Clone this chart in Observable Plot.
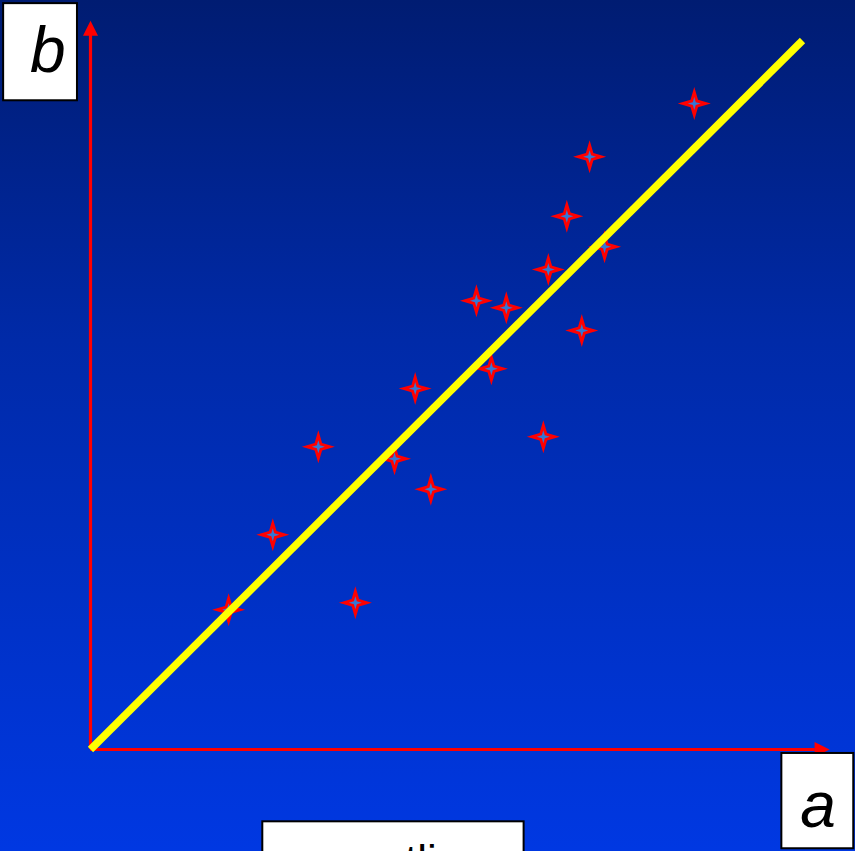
<!DOCTYPE html>
<html>
<head>
<meta charset="utf-8">
<script src="https://cdn.jsdelivr.net/npm/d3@7"></script>
<script src="https://cdn.jsdelivr.net/npm/@observablehq/plot@0.6"></script>
<style>
html, body { margin: 0; padding: 0; overflow: hidden; }
</style>
</head>
<body>
<div id="chart"></div>
<script>
// Data (arbitrary units: origin at 0, fitted line b = a)
const aValues = [19.4, 25.6, 32.0, 37.2, 42.7, 45.6, 47.8, 54.2, 56.3, 58.4, 63.6, 64.3, 66.9, 69.0, 70.1, 72.2, 84.8];
const bValues = [19.7, 30.3, 42.7, 20.7, 41.0, 50.9, 36.7, 63.3, 53.7, 62.3, 44.1, 67.7, 75.2, 59.1, 83.6, 70.9, 91.1];
const fitA = [0, 100];
const fitB = [0, 100];
const axisEndA = 103.8;
const axisEndB = 102.8;
const axisLabels = ["a", "b"];
const captionText = "outlier";

const points = aValues.map((a, i) => ({a, b: bValues[i]}));
const fit = fitA.map((a, i) => ({a, b: fitB[i]}));

function star4(innerRatio) {
  return {
    draw(context, size) {
      const R = Math.sqrt(size / Math.PI);
      const r = R * innerRatio;
      const k = r * Math.SQRT1_2;
      context.moveTo(0, -R);
      context.lineTo(k, -k);
      context.lineTo(R, 0);
      context.lineTo(k, k);
      context.lineTo(0, R);
      context.lineTo(-k, k);
      context.lineTo(-R, 0);
      context.lineTo(-k, -k);
      context.closePath();
    }
  };
}
const arrowHead = {
  draw(context, size) {
    context.moveTo(0, 0);
    context.lineTo(7.5, 15);
    context.lineTo(-7.5, 15);
    context.closePath();
  }
};

// Annotation boxes (data units)
const boxes = [
  {x1: -12.2, x2: -1.83, y1: 91.5, y2: 105.2},   // b box
  {x1: 97.1, x2: 107.2, y1: -14.0, y2: -0.56},   // a box
  {x1: 24.2, x2: 60.9, y1: -25, y2: -10.2}       // caption box
];
const labels = [
  {x: -6.0, y: 95.5, text: axisLabels[1]},
  {x: 102.2, y: -10.9, text: axisLabels[0]}
];

const plot = Plot.plot({
  width: 855,
  height: 851,
  margin: 0,
  x: {type: "linear", domain: [0, 100], range: [90, 802], axis: null},
  y: {type: "linear", domain: [0, 100], range: [749, 40], axis: null},
  style: {overflow: "hidden", background: "linear-gradient(to bottom, #001c72 0%, #002aa8 40%, #0038e2 100%)"},
  marks: [
    // axes
    Plot.ruleX([0], {x: d => d, y1: 0, y2: axisEndB - 2, stroke: "#ff0000", strokeWidth: 3.2}),
    Plot.ruleY([0], {y: d => d, x1: 0, x2: axisEndA - 2, stroke: "#ff0000", strokeWidth: 3}),
    Plot.dot([{a: 0, b: axisEndB}], {x: "a", y: "b", symbol: arrowHead, r: 5, fill: "#ff0000", stroke: "none"}),
    Plot.dot([{a: axisEndA, b: 0}], {x: "a", y: "b", symbol: arrowHead, r: 5, rotate: 90, fill: "#ff0000", stroke: "none"}),
    // stars
    Plot.dot(points, {x: "a", y: "b", symbol: star4(0.32), r: 16.5, fill: "#ff0000", stroke: "none"}),
    Plot.dot(points, {x: "a", y: "b", symbol: star4(0.32), r: 6.5, fill: "#3478d4", stroke: "none"}),
    // fitted line
    Plot.line(fit, {x: "a", y: "b", stroke: "#ffff00", strokeWidth: 7.5, strokeLinecap: "butt"}),
    // label boxes
    Plot.rect(boxes, {x1: "x1", x2: "x2", y1: "y1", y2: "y2", fill: "white", stroke: "black", strokeWidth: 2}),
    Plot.text(labels, {x: "x", y: "y", text: "text", fontSize: 64, fontStyle: "italic", fontFamily: "Liberation Sans, Arial, sans-serif", fill: "black", lineAnchor: "bottom", textAnchor: "middle"}),
    Plot.text([{x: 37.3, y: -17.9, text: captionText}], {x: "x", y: "y", text: "text", fontSize: 44, fontFamily: "Liberation Sans, Arial, sans-serif", fill: "black", lineAnchor: "bottom", textAnchor: "start"})
  ]
});
document.getElementById("chart").appendChild(plot);
</script>
</body>
</html>
